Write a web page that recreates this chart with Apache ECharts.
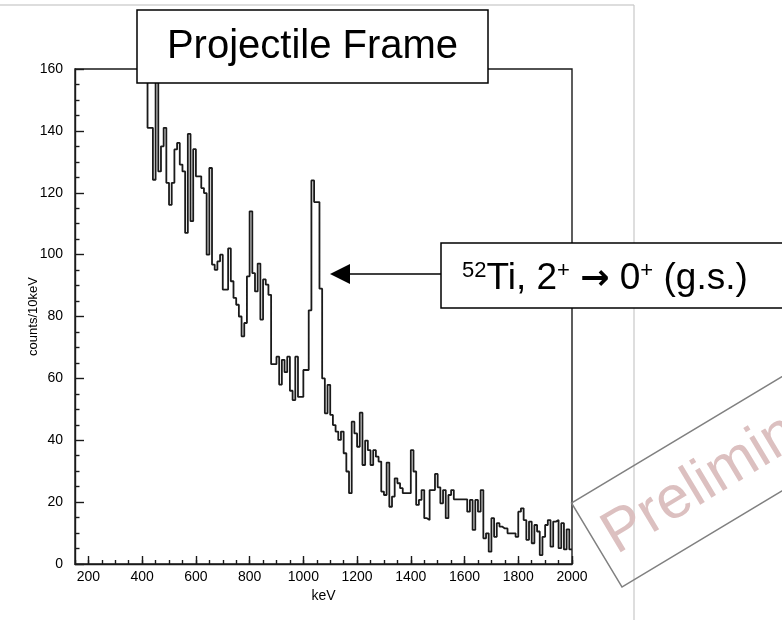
<!DOCTYPE html>
<html><head><meta charset="utf-8">
<script src="https://cdn.jsdelivr.net/npm/echarts@6/dist/echarts.min.js"></script>
<style>html,body{margin:0;padding:0;background:#fff}#c{width:782px;height:620px}</style>
</head><body><div id="c"></div>
<script>
// histogram: 10 keV bins, first bin starts at 410 keV (values above 160 run off the top of the frame)
const binStart = 410;
const binWidth = 10;
const counts = [
  175, 141, 141, 124.2, 175, 126.9, 135, 141, 123.2, 116.1,
  123.2, 134, 136.1, 129.1, 126.9, 107, 139, 110.8, 134.1, 125.3,
  125.3, 121.5, 119.9, 100, 128, 96.8, 95.1, 97.8, 100, 88.7,
  88.7, 102, 91.4, 86, 83.8, 80, 73.6, 77.9, 93, 114,
  94, 88.1, 97.1, 79, 92, 90.3, 87, 64.6, 64.6, 67,
  58, 66, 62, 67, 56, 53, 67, 54, 54, 62.7,
  62.7, 82, 124, 117, 117, 89, 60, 48.7, 57.9, 48.2,
  44.9, 42.8, 40.1, 42.8, 35.8, 29.9, 22.9, 46, 42.2, 37.9,
  48.9, 32, 39.9, 36.8, 32, 36.8, 34.7, 33.1, 23.4, 22.3,
  32.8, 18.5, 21.8, 27.7, 26.1, 24.5, 22.9, 22.9, 22.9, 36.8,
  29.9, 19.1, 20.7, 23.9, 14.8, 14.2, 23.9, 23.9, 29.1, 24.8,
  19.6, 23.9, 14.8, 22.3, 23.9, 20.9, 20.9, 20.9, 20.9, 20.9,
  16.9, 20.7, 11, 20.7, 16.9, 23.9, 8.3, 9.9, 4, 14.8,
  8.8, 13.2, 12.1, 11.5, 11.5, 9.9, 9.9, 9.9, 8.8, 16.9,
  18, 14.2, 7.8, 13.7, 6.7, 12.6, 10.5, 2.9, 8.8, 12.6,
  14.2, 5.6, 13.7, 14.2, 5.1, 13.2, 4.7, 11.2, 4.7
];
const xTickLabels = [200, 400, 600, 800, 1000, 1200, 1400, 1600, 1800, 2000];
const yTickLabels = [0, 20, 40, 60, 80, 100, 120, 140, 160];
const xTitle = 'keV';
const yTitle = 'counts/10keV';
const titleText = 'Projectile Frame';
const stampText = 'Preliminary';

const FONT = '"Liberation Sans", Arial, Helvetica, sans-serif';
const data = counts.map((v, i) => [binStart + i * binWidth, v]);
data.push([binStart + counts.length * binWidth, counts[counts.length - 1]]);

const chart = echarts.init(document.getElementById('c'), null, {renderer: 'canvas'});
const axisColor = '#1a1a1a';
const rad = 31 * Math.PI / 180;
const plain = v => String(v);

chart.setOption({
  animation: false,
  backgroundColor: '#fff',
  grid: {left: 75, top: 69, width: 497, height: 495, show: true, borderColor: axisColor, borderWidth: 1.4, backgroundColor: 'transparent'},
  xAxis: [{
    type: 'value', min: 150, max: 2000, interval: 50,
    name: xTitle, nameLocation: 'middle', nameGap: 24,
    nameTextStyle: {fontFamily: FONT, fontSize: 14, color: '#000'},
    axisLine: {show: true, onZero: false, lineStyle: {color: axisColor, width: 1.4}},
    axisTick: {show: true, inside: true, length: 4, lineStyle: {color: axisColor, width: 1.4}},
    axisLabel: {customValues: xTickLabels, formatter: plain, fontFamily: FONT, fontSize: 14, color: '#000', margin: 6},
    splitLine: {show: false}
  }, {
    type: 'value', min: 150, max: 2000, position: 'bottom',
    axisLine: {show: false},
    axisTick: {show: true, inside: true, length: 8, customValues: xTickLabels, lineStyle: {color: axisColor, width: 1.4}},
    axisLabel: {show: false},
    splitLine: {show: false}
  }],
  yAxis: {
    type: 'value', min: 0, max: 160, interval: 20,
    name: yTitle, nameLocation: 'middle', nameGap: 35, nameRotate: 90, nameMoveOverlap: false,
    nameTextStyle: {fontFamily: FONT, fontSize: 13, color: '#000'},
    axisLine: {show: true, lineStyle: {color: axisColor, width: 1.4}},
    axisTick: {show: true, inside: true, length: 9, lineStyle: {color: axisColor, width: 1.4}},
    minorTick: {show: true, splitNumber: 4, length: 4.5, lineStyle: {color: axisColor, width: 1.4}},
    axisLabel: {customValues: yTickLabels, formatter: plain, fontFamily: FONT, fontSize: 14, color: '#000', margin: 12},
    splitLine: {show: false}
  },
  series: [{
    type: 'line', step: 'end', data: data, showSymbol: false, clip: true,
    lineStyle: {color: '#1a1a1a', width: 1.8}, z: 3
  }],
  graphic: [
    {type: 'line', z: 50, shape: {x1: 0, y1: 5, x2: 634, y2: 5}, style: {stroke: '#d2d2d2', lineWidth: 1.5}},
    {type: 'line', z: 50, shape: {x1: 634, y1: 5, x2: 634, y2: 620}, style: {stroke: '#c8c8c8', lineWidth: 1.2}},
    {type: 'rect', z: 60, shape: {x: 137, y: 10, width: 351, height: 73}, style: {fill: '#fff', stroke: '#000', lineWidth: 1.5}},
    {type: 'text', z: 61, style: {x: 312.5, y: 47, text: titleText, align: 'center', verticalAlign: 'middle', font: '40px ' + FONT, fill: '#000'}},
    {type: 'line', z: 60, shape: {x1: 348, y1: 274, x2: 441, y2: 274}, style: {stroke: '#000', lineWidth: 1.5}},
    {type: 'polygon', z: 60, shape: {points: [[330, 274], [350, 264], [350, 284]]}, style: {fill: '#000'}},
    {type: 'rect', z: 60, shape: {x: 441, y: 243, width: 345, height: 65}, style: {fill: '#fff', stroke: '#000', lineWidth: 1.5}},
    {type: 'text', z: 61, style: {
      x: 462, y: 276, align: 'left', verticalAlign: 'middle',
      text: '{s|52}{n|Ti, 2}{s|+}{n| }{a|\u2192}{n| 0}{s|+}{n| (g.s.)}',
      rich: {
        n: {fontFamily: FONT, fontSize: 37, lineHeight: 42, fill: '#000', verticalAlign: 'bottom'},
        a: {fontFamily: '"DejaVu Sans", sans-serif', fontSize: 35, fontWeight: 'bold', lineHeight: 42, fill: '#000', verticalAlign: 'bottom'},
        s: {fontFamily: FONT, fontSize: 22, lineHeight: 42, fill: '#000', verticalAlign: 'top', padding: [5, 0, 0, 0]}
      }
    }},
    {type: 'group', z: 70, x: 622, y: 587, rotation: rad, children: [
      {type: 'rect', z: 70, shape: {x: 0, y: -98, width: 420, height: 98}, style: {fill: 'rgba(255,255,255,0)', stroke: '#808080', lineWidth: 1.5}},
      {type: 'text', z: 71, style: {x: 12, y: -47, text: stampText, align: 'left', verticalAlign: 'middle', font: '60px ' + FONT, fill: '#dcc0c0'}}
    ]}
  ]
});
</script>
</body></html>
